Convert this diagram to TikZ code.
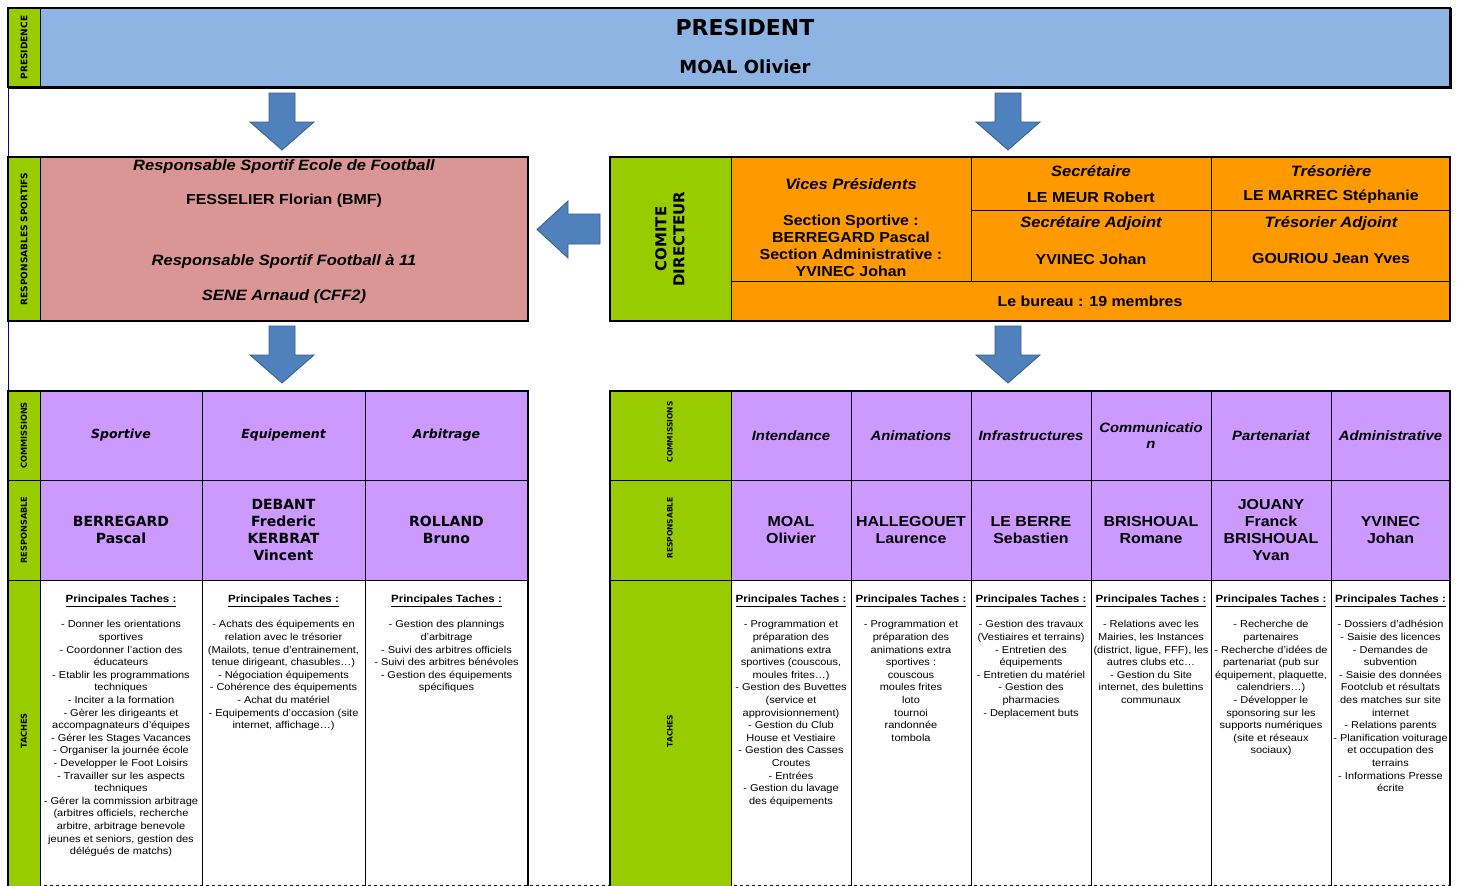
\documentclass[tikz,border=0pt]{standalone}
\usepackage{fontspec}
\setmainfont{DejaVu Sans}
\newfontfamily\tahoma[FakeStretch=1.1]{Liberation Sans}
\newcommand\setfs[2]{\fontsize{#1}{#2}\selectfont}
\definecolor{board}{HTML}{99CC00}
\definecolor{presid}{HTML}{8DB4E2}
\definecolor{sport}{HTML}{DA9694}
\definecolor{bureau}{HTML}{FF9900}
\definecolor{commis}{HTML}{CC99FF}
\definecolor{arrowfill}{HTML}{4F81BD}
\definecolor{arrowline}{HTML}{385D8A}
\definecolor{frameblue}{HTML}{0000B0}
\tikzset{
  thin line/.style={draw=black,line width=1pt},
  block line/.style={draw=black,line width=2.5pt},
  frame line/.style={draw=frameblue,line width=1pt},
  big arrow/.style={fill=arrowfill,draw=arrowline,line width=0.8pt},
  side label/.style={font=\bfseries\setfs{9}{10},rotate=90,inner sep=0},
  cd name/.style={font=\tahoma\bfseries\setfs{14.5}{17},align=center},
  cd role/.style={font=\tahoma\bfseries\itshape\setfs{15}{17},align=center},
  com left/.style={font=\bfseries\itshape\setfs{12.5}{15}},
  com right/.style={font=\tahoma\bfseries\itshape\setfs{13.5}{16},align=center},
  resp left/.style={font=\bfseries\setfs{14}{17},align=center},
  resp right/.style={font=\tahoma\bfseries\setfs{14.5}{17},align=center},
  tasks/.style={font=\tahoma\setfs{10}{12.6},align=center,anchor=north,inner sep=0},
  pics/downarrow/.style={code={
    \filldraw[big arrow] (-13,0) -- (13,0) -- (13,29) -- (32,29) -- (0,57) -- (-32,29) -- (-13,29) -- cycle;}},
}
\newcommand\ptitle{{\setfs{10.5}{12.6}\textbf{\underline{Principales Taches :}}}\\[12.4pt]}

\begin{document}
\begin{tikzpicture}[x=1pt,y=-1pt]
\useasboundingbox (0,0) rectangle (1459,886);
\draw[frame line] (8,7) -- (8,886);
\draw[frame line,dashed] (8,885) -- (1450,885);

% presidence
\fill[board] (8,8) rectangle (40,87);
\fill[presid] (40,8) rectangle (1450,87);
\draw[thin line] (40,8) -- (40,87);
\draw[draw=black,line width=1.5pt] (8,8) rectangle (1450,87);
\draw[draw=black,line width=1.5pt] (8,88) -- (1451,88) -- (1451,8);
\node[side label] (lpres) at (24,47.5) {PRESIDENCE};
\node[font=\bfseries\setfs{22}{26}] (president) at (745,27) {PRESIDENT};
\node[font=\bfseries\setfs{18}{21}] (moal) at (745,67) {MOAL Olivier};

\pic at (282,93) {downarrow};
\pic at (1008,93) {downarrow};

% responsables sportifs
\fill[board] (8,157) rectangle (40,321);
\fill[sport] (40,157) rectangle (528,321);
\draw[thin line] (40,157) -- (40,321);
\draw[block line] (8,157) rectangle (528,321);
\node[side label] (lsport) at (24,239) {RESPONSABLES SPORTIFS};
\node[cd role] (ecole) at (284,167) {Responsable Sportif Ecole de Football};
\node[cd name] (fesselier) at (284,201) {FESSELIER Florian (BMF)};
\node[cd role] (onze) at (284,262) {Responsable Sportif Football à 11};
\node[cd role] (sene) at (284,297) {SENE Arnaud (CFF2)};

\filldraw[big arrow] (600,214) -- (568,214) -- (568,201) -- (537,229.5) -- (568,258) -- (568,244) -- (600,244) -- cycle;

% comite directeur
\fill[board] (610,157) rectangle (731,321);
\fill[bureau] (731,157) rectangle (1450,321);
\draw[thin line] (731,157) -- (731,321);
\draw[thin line] (971,157) -- (971,281) (1211,157) -- (1211,281);
\draw[thin line] (971,210) -- (1450,210) (731,281) -- (1450,281);
\draw[block line] (610,157) rectangle (1450,321);
\node[font=\bfseries\setfs{15}{18},rotate=90,align=center] (comite) at (670,239) {COMITE\\DIRECTEUR};
\node[cd role] (vices) at (851,184) {Vices Présidents};
\node[cd name] (sections) at (851,246) {Section Sportive :\\BERREGARD Pascal\\Section Administrative :\\YVINEC Johan};
\node[cd role] (secr) at (1091,171) {Secrétaire};
\node[cd name] (lemeur) at (1091,197) {LE MEUR Robert};
\node[cd role] (secradj) at (1091,224) {Secrétaire Adjoint};
\node[cd name] (yvinec) at (1091,259) {YVINEC Johan};
\node[cd role] (treso) at (1331,171) {Trésorière};
\node[cd name] (lemarrec) at (1331,197) {LE MARREC Stéphanie};
\node[cd role] (tresoadj) at (1331,224) {Trésorier Adjoint};
\node[cd name] (gouriou) at (1331,259) {GOURIOU Jean Yves};
\node[cd name] (bur) at (1090,301) {Le bureau : 19 membres};

\pic at (282,326) {downarrow};
\pic at (1008,326) {downarrow};

% commissions gauche
\fill[board] (8,391) rectangle (40,886);
\fill[commis] (40,391) rectangle (528,580);
\fill[white] (40,580) rectangle (528,884);
\foreach \x in {40,202,365} \draw[thin line] (\x,391) -- (\x,886);
\draw[thin line] (8,480) -- (528,480) (8,580) -- (528,580);
\draw[block line] (8,886) -- (8,391) -- (528,391) -- (528,886);
\node[side label,font=\bfseries\setfs{8.2}{9}] (lcom) at (24,435.5) {COMMISSIONS};
\node[side label,font=\bfseries\setfs{8.2}{9}] (lresp) at (24,530) {RESPONSABLE};
\node[side label,font=\bfseries\setfs{8.2}{9}] (ltach) at (24,731) {TACHES};
\node[com left] (csport) at (121,435.5) {Sportive};
\node[com left] (cequip) at (283.5,435.5) {Equipement};
\node[com left] (carbit) at (446.5,435.5) {Arbitrage};
\node[resp left] (rsport) at (121,530) {BERREGARD\\Pascal};
\node[resp left] (requip) at (283.5,530) {DEBANT\\Frederic\\KERBRAT\\Vincent};
\node[resp left] (rarbit) at (446.5,530) {ROLLAND\\Bruno};
\node[tasks] (tsport) at (121,595) {\ptitle - Donner les orientations\\sportives\\- Coordonner l’action des\\éducateurs\\- Etablir les programmations\\techniques\\- Inciter a la formation\\- Gèrer les dirigeants et\\accompagnateurs d’équipes\\- Gérer les Stages Vacances\\- Organiser la journée école\\- Developper le Foot Loisirs\\- Travailler sur les aspects\\techniques\\- Gérer la commission arbitrage\\(arbitres officiels, recherche\\arbitre, arbitrage benevole\\jeunes et seniors, gestion des\\délégués de matchs)};
\node[tasks] (tequip) at (283.5,595) {\ptitle - Achats des équipements en\\relation avec le trésorier\\(Mailots, tenue d’entrainement,\\tenue dirigeant, chasubles…)\\- Négociation équipements\\- Cohérence des équipements\\- Achat du matériel\\- Equipements d’occasion (site\\internet, affichage…)};
\node[tasks] (tarbit) at (446.5,595) {\ptitle - Gestion des plannings\\d’arbitrage\\- Suivi des arbitres officiels\\- Suivi des arbitres bénévoles\\- Gestion des équipements\\spécifiques};

% commissions droite
\fill[board] (610,391) rectangle (731,886);
\fill[commis] (731,391) rectangle (1450,580);
\fill[white] (731,580) rectangle (1450,884);
\foreach \x in {731,851,971,1091,1211,1331} \draw[thin line] (\x,391) -- (\x,886);
\draw[thin line] (610,480) -- (1450,480) (610,580) -- (1450,580);
\draw[block line] (610,886) -- (610,391) -- (1450,391) -- (1450,886);
\node[side label,font=\bfseries\setfs{7.5}{9}] (rcom) at (670,432) {COMMISSIONS};
\node[side label,font=\bfseries\setfs{7.5}{9}] (rresp) at (670,528) {RESPONSABLE};
\node[side label,font=\bfseries\setfs{7.5}{9}] (rtach) at (670,731) {TACHES};
\node[com right] (cinten) at (791,435.5) {Intendance};
\node[com right] (canim) at (911,435.5) {Animations};
\node[com right] (cinfra) at (1031,435.5) {Infrastructures};
\node[com right] (ccomm) at (1151,435.5) {Communicatio\\n};
\node[com right] (cpart) at (1271,435.5) {Partenariat};
\node[com right] (cadmin) at (1390.5,435.5) {Administrative};
\node[resp right] (rinten) at (791,530) {MOAL\\Olivier};
\node[resp right] (ranim) at (911,530) {HALLEGOUET\\Laurence};
\node[resp right] (rinfra) at (1031,530) {LE BERRE\\Sebastien};
\node[resp right] (rcomm) at (1151,530) {BRISHOUAL\\Romane};
\node[resp right] (rpart) at (1271,530) {JOUANY\\Franck\\BRISHOUAL\\Yvan};
\node[resp right] (radmin) at (1390.5,530) {YVINEC\\Johan};
\node[tasks] (tinten) at (791,595) {\ptitle - Programmation et\\préparation des\\animations extra\\sportives (couscous,\\moules frites…)\\- Gestion des Buvettes\\(service et\\approvisionnement)\\- Gestion du Club\\House et Vestiaire\\- Gestion des Casses\\Croutes\\- Entrées\\- Gestion du lavage\\des équipements};
\node[tasks] (tanim) at (911,595) {\ptitle - Programmation et\\préparation des\\animations extra\\sportives :\\couscous\\moules frites\\loto\\tournoi\\randonnée\\tombola};
\node[tasks] (tinfra) at (1031,595) {\ptitle - Gestion des travaux\\(Vestiaires et terrains)\\- Entretien des\\équipements\\- Entretien du matériel\\- Gestion des\\pharmacies\\- Deplacement buts};
\node[tasks] (tcomm) at (1151,595) {\ptitle - Relations avec les\\Mairies, les Instances\\(district, ligue, FFF), les\\autres clubs etc…\\- Gestion du Site\\internet, des bulettins\\communaux};
\node[tasks] (tpart) at (1271,595) {\ptitle - Recherche de\\partenaires\\- Recherche d’idées de\\partenariat (pub sur\\équipement, plaquette,\\calendriers…)\\- Développer le\\sponsoring sur les\\supports numériques\\(site et réseaux\\sociaux)};
\node[tasks] (tadmin) at (1390.5,595) {\ptitle - Dossiers d’adhésion\\- Saisie des licences\\- Demandes de\\subvention\\- Saisie des données\\Footclub et résultats\\des matches sur site\\internet\\- Relations parents\\- Planification voiturage\\et occupation des\\terrains\\- Informations Presse\\écrite};
\end{tikzpicture}
\end{document}
